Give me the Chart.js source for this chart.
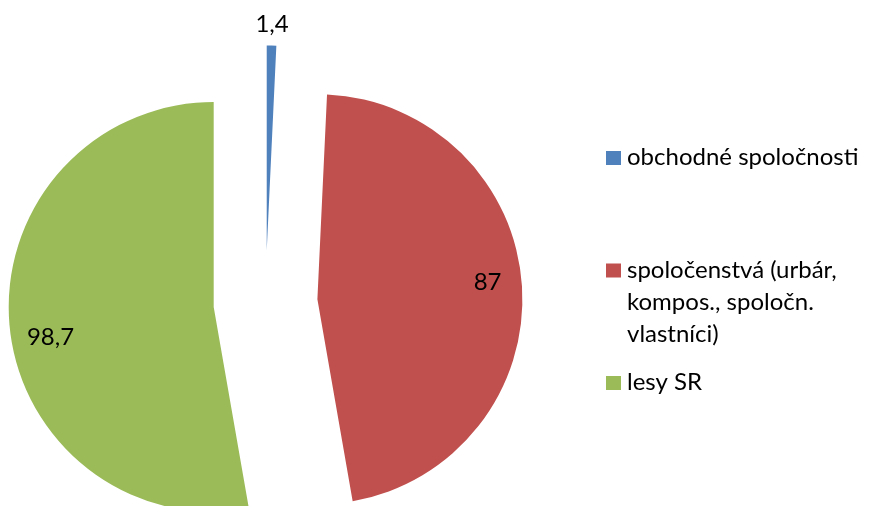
<!DOCTYPE html>
<html>
<head>
<meta charset="utf-8">
<script src="https://cdn.jsdelivr.net/npm/chart.js@4.4.1/dist/chart.umd.min.js"></script>
<style>
  html, body { margin: 0; padding: 0; background: #fff; }
  #wrap { position: relative; width: 869px; height: 506px; }
</style>
</head>
<body>
<div id="wrap"><canvas id="pieChart" width="869" height="506"></canvas></div>
<script>
// vlastníci lesov - hodnoty odčítané z grafu
const categories = ["obchodné spoločnosti", "spoločenstvá (urbár, kompos., spoločn. vlastníci)", "lesy SR"];
const values = [1.4, 87, 98.7];
const legendLines = [["obchodné spoločnosti"], ["spoločenstvá (urbár,", "kompos., spoločn.", "vlastníci)"], ["lesy SR"]];
const colors = ["#4F81BD", "#C0504D", "#9BBB59"];

const FONT = "24px Lato";
const EXPLODE = 52;      // posun výsekov od stredu
const DIGIT_HALF = 8.5;  // polovica výšky číslic
// umiestnenie popiskov: r = násobok polomeru, a = posun uhla v stupňoch
const labelPlacement = [{r: 1.107, a: 0}, {r: 0.835, a: -2.5}, {r: 0.809, a: -5.4}];

const fmt = v => String(v).replace(".", ",");

const explodePlugin = {
    id: "explode",
    beforeDatasetDraw(chart, args) {
        const ctx = chart.ctx;
        args.meta.data.forEach(arc => {
            const mid = (arc.startAngle + arc.endAngle) / 2;
            ctx.save();
            ctx.translate(Math.cos(mid) * EXPLODE, Math.sin(mid) * EXPLODE);
            arc.draw(ctx);
            ctx.restore();
        });
        return false;
    },
    afterDatasetsDraw(chart) {
        const ctx = chart.ctx;
        const meta = chart.getDatasetMeta(0);
        ctx.save();
        ctx.font = FONT;
        ctx.fillStyle = "#000";
        ctx.textAlign = "center";
        ctx.textBaseline = "alphabetic";
        meta.data.forEach((arc, i) => {
            const mid = (arc.startAngle + arc.endAngle) / 2;
            const p = labelPlacement[i];
            const a = mid + p.a * Math.PI / 180;
            const r = arc.outerRadius * p.r;
            const x = arc.x + Math.cos(mid) * EXPLODE + Math.cos(a) * r;
            const y = arc.y + Math.sin(mid) * EXPLODE + Math.sin(a) * r + DIGIT_HALF;
            ctx.fillText(fmt(values[i]), x, y);
        });
        ctx.restore();
    },
    afterDraw(chart) {
        // legenda vpravo
        const ctx = chart.ctx;
        ctx.save();
        ctx.font = FONT;
        ctx.textAlign = "left";
        ctx.textBaseline = "alphabetic";
        legendLines.forEach((lines, i) => {
            const base = 165 + i * 112.5;
            ctx.fillStyle = colors[i];
            ctx.fillRect(606, base - 14, 15, 14);
            ctx.fillStyle = "#000";
            lines.forEach((t, j) => ctx.fillText(t, 627, base + j * 32));
        });
        ctx.restore();
    }
};

function draw() {
    new Chart(document.getElementById("pieChart"), {
        type: "pie",
        data: {
            labels: categories,
            datasets: [{data: values, backgroundColor: colors, borderWidth: 0}]
        },
        options: {
            responsive: false,
            animation: false,
            events: [],
            radius: 205,
            layout: {padding: {top: 99, right: 338, left: 0, bottom: 0}},
            plugins: {legend: {display: false}, tooltip: {enabled: false}}
        },
        plugins: [explodePlugin]
    });
}

document.fonts.load(FONT).then(draw, draw);
</script>
</body>
</html>
